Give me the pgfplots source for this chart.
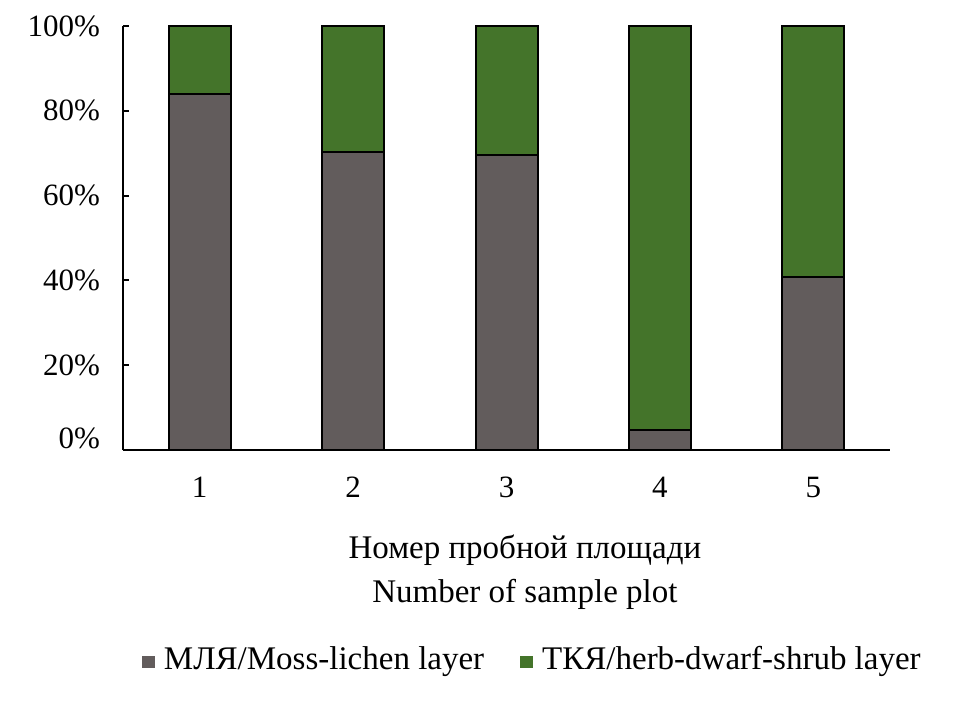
\documentclass[border=0pt]{standalone}
\usepackage{fontspec}
\setmainfont{Liberation Serif}
\usepackage{pgfplots}
\pgfplotsset{compat=1.18}
\definecolor{mossgrey}{HTML}{625C5C}
\definecolor{herbgreen}{HTML}{44742A}
\begin{document}
\begin{tikzpicture}[font=\fontsize{15.5}{22}\selectfont]
\begin{axis}[
  scale only axis, width=383.5pt, height=212pt,
  ybar stacked, bar width=31pt,
  xmin=0.5, xmax=5.5, ymin=0, ymax=100,
  axis x line=bottom, axis y line=left,
  axis line style={line width=1pt, -},
  xtick={1,2,3,4,5}, xticklabels={1,2,3,4,5},
  major x tick style={draw=none},
  ytick={0,20,40,60,80,100},
  yticklabels={\raisebox{12pt}{0\%},20\%,40\%,60\%,80\%,100\%},
  tick align=inside, major tick length=3pt,
  major y tick style={line width=1pt, black},
  yticklabel style={xshift=-8pt},
  xticklabel style={yshift=-10pt},
  /pgf/number format/assume math mode=true,
  xlabel={Номер пробной площади\\Number of sample plot},
  xlabel style={at={(axis description cs:0.524,-0.2)}, anchor=north, align=center, inner sep=0pt,
    font=\fontsize{16.5}{22}\selectfont},
  legend style={draw=none, legend columns=2, at={(0.535,-0.5)}, anchor=center,
    font=\fontsize{16.5}{20}\selectfont,
    nodes={text height=11pt, text depth=4pt},
    /tikz/every even column/.append style={column sep=16pt}},
  legend image code/.code={\fill[#1, draw=none] (0pt,-3.2pt) rectangle (6.4pt,3.2pt); \path[draw=none, fill=none] (0pt,0pt) -- (9pt,0pt);},
  every axis plot/.append style={draw=black, line width=1pt},
]
\addplot[fill=mossgrey] coordinates {(1,84.0) (2,70.3) (3,69.6) (4,4.7) (5,40.8)};
\addplot[fill=herbgreen] coordinates {(1,16.0) (2,29.7) (3,30.4) (4,95.3) (5,59.2)};
\legend{МЛЯ/Moss-lichen layer, ТКЯ/herb-dwarf-shrub layer}
\end{axis}
\path[use as bounding box] (-61.5pt,-125.5pt) rectangle (419pt,225pt);
\end{tikzpicture}
\end{document}
